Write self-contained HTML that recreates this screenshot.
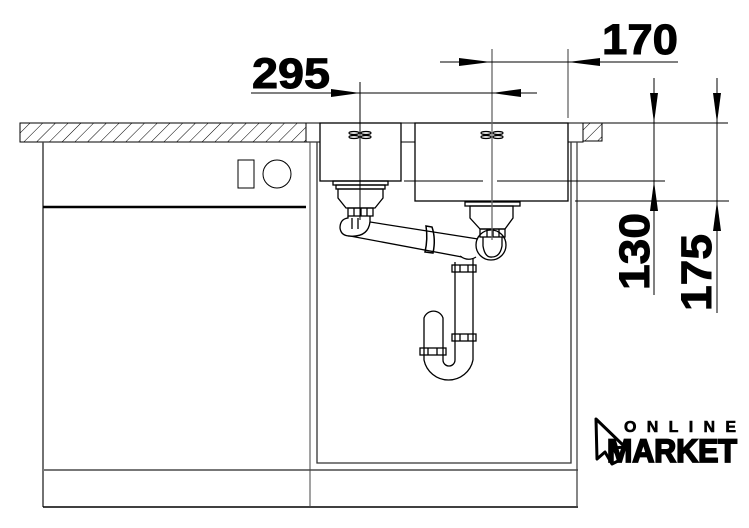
<!DOCTYPE html>
<html><head><meta charset="utf-8"><style>
html,body{margin:0;padding:0;background:#fff}
svg{display:block}
</style></head><body>
<svg width="749" height="528" viewBox="0 0 749 528" xmlns="http://www.w3.org/2000/svg">
<defs>
<pattern id="h" patternUnits="userSpaceOnUse" width="9" height="9" patternTransform="rotate(45)">
<rect width="9" height="9" fill="#fff"/><line x1="0" y1="0" x2="0" y2="9" stroke="#000" stroke-width="1"/>
</pattern>
</defs>
<g fill="none" stroke="#000" stroke-width="1">
<rect x="20" y="123" width="286" height="19" fill="url(#h)"/>
<rect x="583" y="123" width="19" height="18" fill="url(#h)"/>
<line x1="306" y1="123" x2="728" y2="123"/>
<rect x="306" y="123" width="14" height="19"/>
<rect x="401" y="123" width="14" height="19"/>
<rect x="568" y="123" width="15" height="19"/>
<line x1="43" y1="142" x2="43" y2="507" stroke="#444" stroke-width="1.5"/>
<line x1="43" y1="507" x2="578" y2="507" stroke-width="1.5"/>
<line x1="43" y1="470" x2="578" y2="470" stroke="#777" stroke-width="2"/>
<line x1="43" y1="207" x2="306" y2="207" stroke-width="2.5"/>
<line x1="310" y1="142" x2="310" y2="507" stroke="#444"/>
<rect x="238" y="160" width="16" height="28"/>
<circle cx="277" cy="174" r="14"/>
<polyline points="317,142 317,463 571,463 571,142" stroke="#333" stroke-width="1.3"/>
<line x1="577" y1="142" x2="577" y2="507" stroke="#444" stroke-width="1.3"/>
<rect x="320" y="123" width="81" height="58" stroke-width="1.3"/>
<rect x="415" y="123" width="153" height="78" stroke-width="1.3"/>
<line x1="404" y1="181" x2="483" y2="181"/>
<line x1="497" y1="181" x2="665" y2="181"/>
<line x1="575" y1="201" x2="729" y2="201"/>
<g stroke-width="1.2"><ellipse cx="354" cy="133" rx="5" ry="1.5"/><ellipse cx="366" cy="133" rx="5" ry="1.5"/><ellipse cx="354" cy="137" rx="5" ry="1.5"/><ellipse cx="366" cy="137" rx="5" ry="1.5"/>
<ellipse cx="486" cy="133" rx="5" ry="1.5"/><ellipse cx="498" cy="133" rx="5" ry="1.5"/><ellipse cx="486" cy="137" rx="5" ry="1.5"/><ellipse cx="498" cy="137" rx="5" ry="1.5"/></g>
<g stroke-width="1.3">
<rect x="333" y="181" width="55" height="4"/>
<rect x="336" y="185" width="49" height="4"/>
<polygon points="338,189 383,189 383,198 375,208 346,208 338,198"/>
<rect x="348" y="208" width="25" height="8"/>
<line x1="354" y1="208" x2="354" y2="216"/><line x1="361" y1="208" x2="361" y2="216"/><line x1="367" y1="208" x2="367" y2="216"/>
<path d="M348,216 L348,218 Q340,219 340,228 Q341,236 350,236 L462,257"/>
<path d="M370,216 L370,222 L478,239"/>
<path d="M348,236 Q368,238 370,222"/>
<line x1="352" y1="218" x2="352" y2="229"/><line x1="358" y1="218" x2="358" y2="229"/>
<path d="M426,226 L432,227 Q436,239 433,253 L425,252 Q428,239 426,226Z" stroke-width="1.5"/>
<rect x="465" y="202" width="55" height="4"/>
<polygon points="470,206 513,206 513,218 505,229 480,229 470,218"/>
<rect x="480" y="229" width="25" height="8"/>
<line x1="487" y1="229" x2="487" y2="237"/><line x1="493" y1="229" x2="493" y2="237"/><line x1="499" y1="229" x2="499" y2="237"/>
<circle cx="491" cy="245" r="15"/>
<path d="M483,237 L483,246 Q485,258 492,257 Q500,257 502,246 L502,237"/>
<path d="M460,256 Q468,262 476,257"/>
<line x1="455" y1="262" x2="455" y2="360"/>
<line x1="473" y1="258" x2="473" y2="360"/>
<rect x="452" y="265" width="24" height="7"/>
<rect x="452" y="334" width="24" height="7"/>
<path d="M473,360 A25,25 0 0 1 424,360 L424,318 A10,10 0 0 1 443,318 L443,360 A6,6 0 0 0 455,360"/>
<rect x="420" y="348" width="26" height="7"/>
<line x1="428" y1="348" x2="428" y2="355"/><line x1="437" y1="348" x2="437" y2="355"/>
<line x1="460" y1="334" x2="460" y2="341"/><line x1="468" y1="334" x2="468" y2="341"/>
<line x1="460" y1="265" x2="460" y2="272"/><line x1="468" y1="265" x2="468" y2="272"/>
</g>
<line x1="360" y1="82" x2="360" y2="220"/>
<line x1="492" y1="49" x2="492" y2="240" stroke="#666" stroke-width="1.3"/>
<line x1="568" y1="49" x2="568" y2="118" stroke="#666" stroke-width="1.3"/>
<line x1="251" y1="93" x2="537" y2="93"/>
<line x1="440" y1="62" x2="678" y2="62"/>
<line x1="654" y1="78" x2="654" y2="295"/>
<line x1="717" y1="78" x2="717" y2="313"/>
</g>
<g fill="#000">
<polygon points="360,93 331,89 331,97"/>
<polygon points="492,93 521,89 521,97"/>
<polygon points="491,62 459,58 459,66"/>
<polygon points="568,62 600,58 600,66"/>
<polygon points="654,123 650,93 658,93"/>
<polygon points="654,181 650,211 658,211"/>
<polygon points="717,123 713,93 721,93"/>
<polygon points="717,201 713,231 721,231"/>
</g>
<g font-family="Liberation Sans, Arial, sans-serif" font-weight="bold" font-size="43" fill="#000" stroke="#000" stroke-width="1">
<text x="252" y="88" textLength="78" lengthAdjust="spacingAndGlyphs">295</text>
<text x="602" y="54" textLength="76" lengthAdjust="spacingAndGlyphs">170</text>
<text transform="translate(649,290) rotate(-90)" textLength="77" lengthAdjust="spacingAndGlyphs">130</text>
<text transform="translate(711,311) rotate(-90)" textLength="77" lengthAdjust="spacingAndGlyphs">175</text>
</g>
<path d="M596,419 L625,447 L613,448 L620,460 L612,464 L605,452 L597,459 Z" fill="#fff" stroke="#000" stroke-width="3" stroke-linejoin="round"/>
<text x="624" y="432" font-family="Liberation Sans, Arial, sans-serif" font-weight="bold" font-size="16" textLength="112" lengthAdjust="spacing" stroke="#000" stroke-width="0.6">ONLINE</text>
<text x="607" y="462" font-family="Liberation Sans, Arial, sans-serif" font-weight="bold" font-size="32" textLength="130" lengthAdjust="spacingAndGlyphs" stroke="#000" stroke-width="1.8">MARKET</text>
</svg>
</body></html>
